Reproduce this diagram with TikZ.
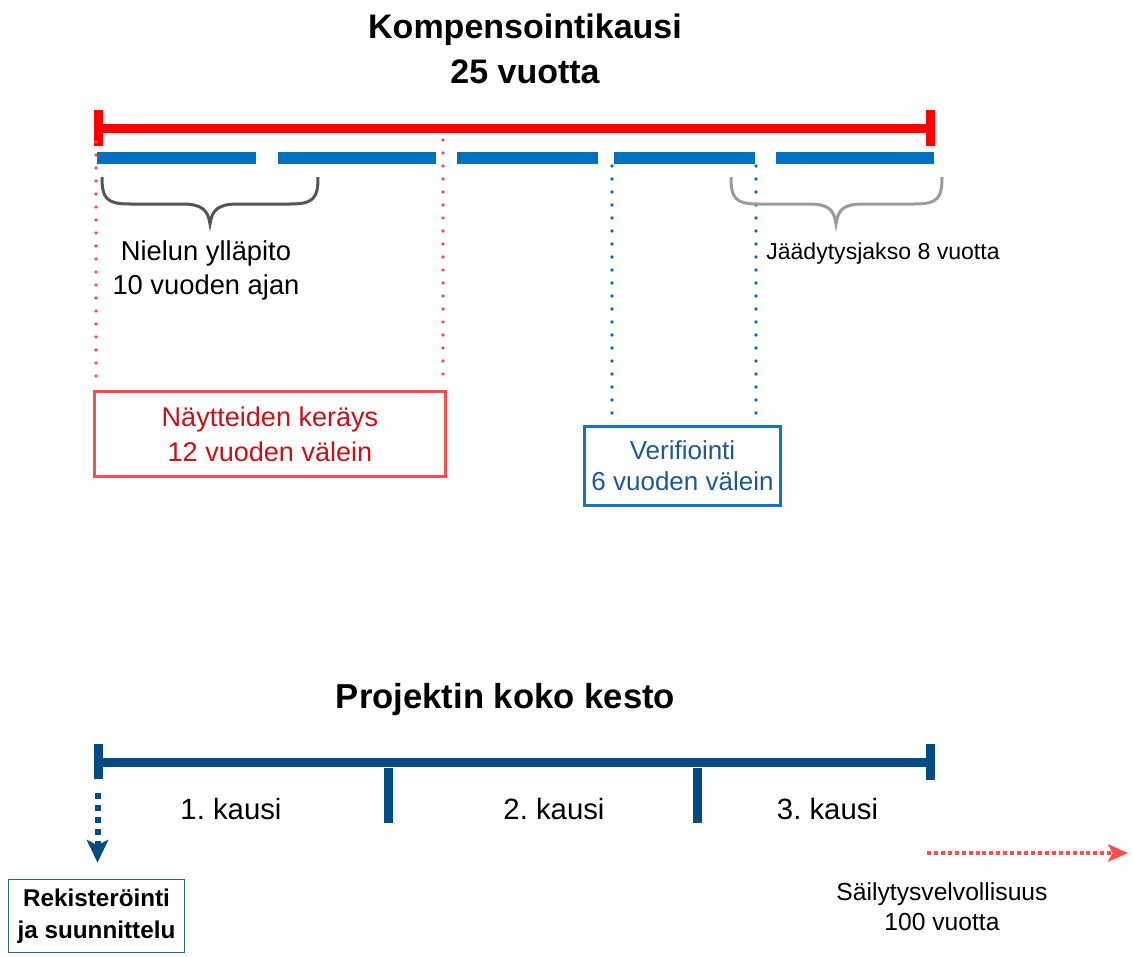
\documentclass[tikz,border=0pt]{standalone}
\usepackage{fontspec}
\setmainfont{Liberation Sans}
\usetikzlibrary{arrows.meta}
\frenchspacing

\begin{document}
\begin{tikzpicture}[x=0.75pt,y=0.75pt,yscale=-1,xscale=1,
  redbar/.style={color={rgb, 255:red, 255; green, 0; blue, 0 }, line width=6.75pt},
  bluedash/.style={color={rgb, 255:red, 0; green, 112; blue, 192 }, line width=9pt},
  navybar/.style={color={rgb, 255:red, 4; green, 74; blue, 133 }, line width=6.75pt},
  reddots/.style={color={rgb, 255:red, 255; green, 77; blue, 77 }, line width=2.8pt, line cap=round, dash pattern={on 0pt off 9.75pt}},
  bluedots/.style={color={rgb, 255:red, 0; green, 112; blue, 192 }, line width=2.8pt, line cap=round, dash pattern={on 0pt off 9.75pt}},
  bracket/.style={line width=2.25pt}]
\useasboundingbox (0,0) rectangle (1133,957);

% Text Node
\draw (525,49) node [align=center, font=\bfseries\fontsize{25.5}{34}\selectfont] (kausi) {Kompensointikausi\\25 vuotta};

%Straight Lines: red bar with end caps
\draw [redbar] (98.5,128) -- (930,128) ;
\draw [redbar] (98.5,110) -- (98.5,146) ;
\draw [redbar] (930,110) -- (930,146) ;

%Straight Lines: dotted guides
\draw [reddots] (96,142) -- (96,386) ;
\draw [reddots] (443,140) -- (443,386) ;
\draw [bluedots] (612,166) -- (612,420) ;
\draw [bluedots] (756,166) -- (756,420) ;

%Straight Lines: blue segments
\foreach \a/\b in {97/256, 278/436, 457/598, 614/755, 776/934}
  \draw [bluedash] (\a,158) -- (\b,158) ;

%Shape: Brace
\draw [bracket, color={rgb, 255:red, 85; green, 85; blue, 85 }] (102,177) .. controls (102,198) and (106,204) .. (130,204) -- (182,204) .. controls (202,204) and (208,210) .. (210,224) .. controls (212,210) and (218,204) .. (238,204) -- (290,204) .. controls (314,204) and (318,198) .. (318,177) ;
%Shape: Brace
\draw [bracket, color={rgb, 255:red, 155; green, 155; blue, 155 }] (731,177) .. controls (731,198) and (735,204) .. (759,204) -- (809,204) .. controls (829,204) and (834,210) .. (836,224) .. controls (838,210) and (843,204) .. (863,204) -- (914,204) .. controls (938,204) and (942,198) .. (942,177) ;

% Text Node
\draw (206,270) node [align=center, font=\fontsize{20.5}{25.5}\selectfont] (nielu) {Nielun ylläpito\\10 vuoden ajan};
% Text Node
\draw (765,254) node [anchor=west, inner sep=0.75pt, font=\fontsize{17.3}{21}\selectfont] (jaady) {Jäädytysjakso 8 vuotta};

%Shape: Rectangle
\draw (270,434) node [draw={rgb, 255:red, 255; green, 77; blue, 77 }, line width=2.25pt, minimum width=263pt, minimum height=64pt, align=center, text={rgb, 255:red, 200; green, 16; blue, 22 }, font=\fontsize{20.3}{26}\selectfont] (nayte) {Näytteiden keräys\\12 vuoden välein};
%Shape: Rectangle
\draw (682.5,466) node [draw={rgb, 255:red, 20; green, 115; blue, 195 }, line width=2.25pt, minimum width=147pt, minimum height=59pt, align=center, text={rgb, 255:red, 28; green, 88; blue, 150 }, font=\fontsize{19.5}{23}\selectfont] (verif) {Verifiointi\\6 vuoden välein};

% Text Node
\draw (505.5,700) node [font=\bfseries\fontsize{26}{32}\selectfont] (kesto) {Projektin koko kesto};

%Straight Lines: project bar with ticks
\draw [navybar] (98.5,762) -- (930.5,762) ;
\draw [navybar] (98.5,744) -- (98.5,779) ;
\draw [navybar] (930.5,744) -- (930.5,780) ;
\draw [navybar] (388,768) -- (388,823) ;
\draw [navybar] (697,768) -- (697,823) ;

% Text Node
\draw (231,809) node [font=\fontsize{22}{26}\selectfont] (k1) {1. kausi};
\draw (554,809) node [font=\fontsize{22}{26}\selectfont] (k2) {2. kausi};
\draw (827.5,809) node [font=\fontsize{22}{26}\selectfont] (k3) {3. kausi};

%Shape: Rectangle
\draw (96.5,916) node [draw={rgb, 255:red, 46; green, 100; blue, 155 }, line width=1.1pt, minimum width=132pt, minimum height=55pt, align=center, font=\bfseries\fontsize{18.2}{24}\selectfont] (rek) {Rekisteröinti\\ja suunnittelu};

%Straight Lines: dotted arrow down
\coordinate (alku) at (97.5,793);
\draw [color={rgb, 255:red, 4; green, 74; blue, 133 }, line width=4.5pt, dash pattern={on 4.5pt off 4.5pt}, -{Stealth[length=17pt, width=16pt, inset=4pt]}, shorten >=12pt] (alku) -- (alku |- rek.north) ;

%Straight Lines: dotted arrow right
\coordinate (sa) at (927,853);
\coordinate (sb) at (1128,853);
\draw [color={rgb, 255:red, 255; green, 77; blue, 77 }, line width=3pt, dash pattern={on 3pt off 2.2pt}, -{Stealth[length=15pt, width=13pt, inset=3.5pt]}] (sa) -- (sb) ;

% Text Node
\draw (942,907) node [align=center, font=\fontsize{18.5}{22.5}\selectfont] (saily) {Säilytysvelvollisuus\\100 vuotta};
\end{tikzpicture}
\end{document}
